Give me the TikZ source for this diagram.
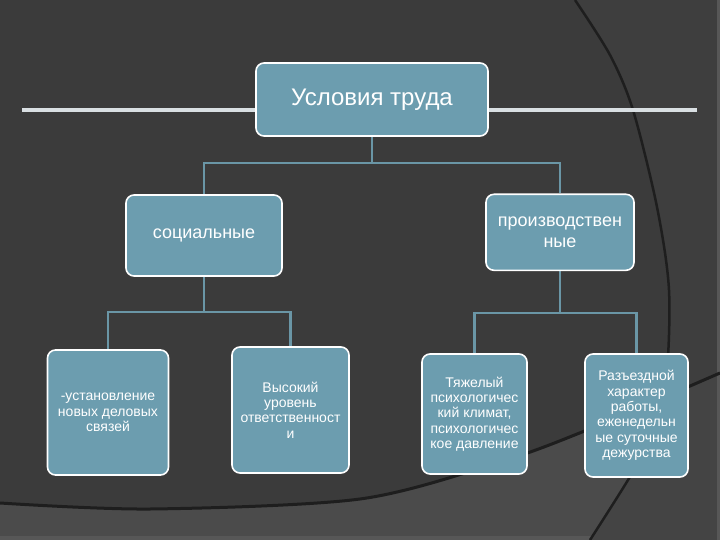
\documentclass[tikz,border=0pt]{standalone}
\usepackage{fontspec}
\setmainfont{Liberation Sans}
\definecolor{bgdark}{HTML}{3B3B3B}
\definecolor{bgright}{HTML}{3E3E3E}
\definecolor{bglight}{HTML}{4B4B4B}
\definecolor{bglightright}{HTML}{444444}
\definecolor{bgstrip}{HTML}{575757}
\definecolor{curvec}{HTML}{1E1E1E}
\definecolor{boxfill}{HTML}{6C9DAF}
\definecolor{connc}{HTML}{6A96A6}
\definecolor{hlinec}{HTML}{D9DFE2}
\pgfdeclarelayer{bglayer}
\pgfdeclarelayer{connlayer}
\pgfsetlayers{bglayer,connlayer,main}
\tikzset{
  box/.style={draw=white, line width=1.6pt, fill=boxfill, rounded corners=8pt,
    text=white, align=center, inner sep=0pt},
  conn/.style={draw=connc, line width=2.2pt},
  hline/.style={draw=hlinec, line width=4pt},
  smalltext/.style={font=\fontsize{14}{15.3}\selectfont},
  midtext/.style={font=\fontsize{18}{21}\selectfont},
}
\begin{document}
\begin{tikzpicture}[x=1pt,y=-1pt]
\useasboundingbox (0,0) rectangle (720,540);
\begin{pgfonlayer}{bglayer}
  \fill[bgdark] (0,0) rectangle (720,540);
  \fill[bglight] plot[smooth] coordinates {(0,503) (150,509) (360,499) (500,462) (587,430) (720,373)} -- (720,540) -- (0,540) -- cycle;
  \fill[bgstrip] (0,536) rectangle (600,540);
  \begin{scope}
    \clip plot[smooth] coordinates {(575,0) (610,55) (633,110) (657,207) (669,290) (666,380) (650,440) (628,480) (590,540)} -- (720,540) -- (720,0) -- cycle;
    \fill[bgright] (560,0) rectangle (720,540);
    \fill[bglightright] plot[smooth] coordinates {(0,503) (150,509) (360,499) (500,462) (587,430) (720,373)} -- (720,540) -- (0,540) -- cycle;
  \end{scope}
  \fill[bgstrip] (717,0) rectangle (720,540);
  \draw[curvec, line width=3pt] plot[smooth] coordinates {(0,503) (150,509) (360,499) (500,462) (587,430) (720,373)};
  \draw[curvec, line width=2.5pt] plot[smooth] coordinates {(575,0) (610,55) (633,110) (657,207) (669,290) (666,380) (650,440) (628,480) (590,540)};
\end{pgfonlayer}

% nodes
\node[box, minimum width=232pt, minimum height=73pt, font=\fontsize{24}{28}\selectfont] (top) at (372,99.5) {Условия труда};
\node[box, midtext, minimum width=156pt, minimum height=81pt] (soc) at (204,235.5) {социальные};
\node[box, midtext, minimum width=148pt, minimum height=76pt] (prod) at (560,232.3) {производствен\\ные};
\node[box, smalltext, minimum width=121pt, minimum height=125pt] (b1) at (108,412.5) {-установление\\новых деловых\\связей};
\node[box, smalltext, minimum width=117pt, minimum height=126pt] (b2) at (290.5,410) {Высокий\\уровень\\ответственност\\и};
\node[box, smalltext, minimum width=105pt, minimum height=120pt] (b3) at (474.5,414) {Тяжелый\\психологичес\\кий климат,\\психологичес\\кое давление};
\node[box, smalltext, minimum width=103pt, minimum height=123pt] (b4) at (636.5,415.5) {Разъездной\\характер\\работы,\\еженедельн\\ые суточные\\дежурства};

\begin{pgfonlayer}{connlayer}
  \coordinate (hl) at (22,110);
  \coordinate (hr) at (697,110);
  \draw[hline] (hl) -- (hr);
  \coordinate (j0) at (372,163);
  \coordinate (j1) at (204,312);
  \coordinate (j2) at (560,313);
  \draw[conn] (top.south) -- (j0);
  \draw[conn] (soc.north) |- (j0) -| (prod.north);
  \draw[conn] (soc.south) -- (j1);
  \draw[conn] (b1.north) |- (j1) -| (b2.north);
  \draw[conn] (prod.south) -- (j2);
  \draw[conn] (b3.north) |- (j2) -| (b4.north);
\end{pgfonlayer}
\end{tikzpicture}
\end{document}
